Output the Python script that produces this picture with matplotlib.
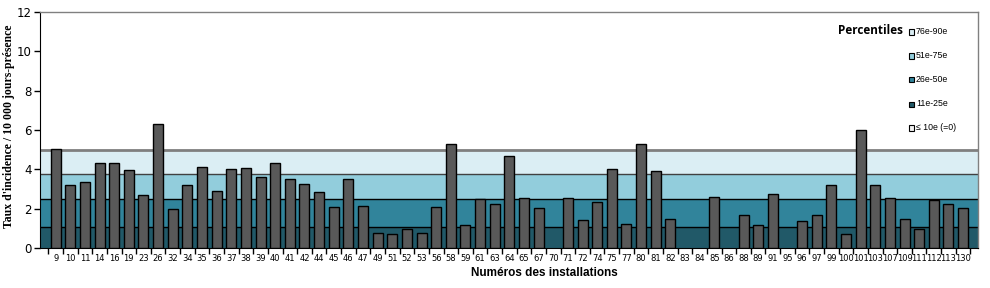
import matplotlib
matplotlib.use("Agg")
import matplotlib.pyplot as plt
from matplotlib.patches import Rectangle
import numpy as np

categories = ["9", "10", "11", "14", "16", "19", "23", "26", "32", "34", "35", "36", "37", "38",
              "39", "40", "41", "42", "44", "45", "46", "47", "49", "51", "52", "53", "56", "58",
              "59", "61", "63", "64", "65", "67", "70", "71", "72", "74", "75", "77", "80", "81",
              "82", "83", "84", "85", "86", "88", "89", "91", "95", "96", "97", "99", "100", "101",
              "103", "107", "109", "111", "112", "113", "130"]
values = [5.03, 3.20, 3.36, 4.32, 4.32, 3.97, 2.69, 6.30, 1.98, 3.20, 4.12, 2.90, 4.02, 4.07,
          3.61, 4.32, 3.51, 3.25, 2.85, 2.08, 3.51, 2.14, 0.76, 0.71, 0.97, 0.76, 2.08, 5.29,
          1.17, 2.49, 2.24, 4.68, 2.54, 2.03, 0.0, 2.54, 1.42, 2.34, 4.02, 1.22, 5.29, 3.91,
          1.47, 0.0, 0.0, 2.59, 0.0, 1.68, 1.17, 2.75, 0.0, 1.37, 1.68, 3.20, 0.71, 6.00,
          3.20, 2.54, 1.47, 0.97, 2.44, 2.24, 2.03]

# percentile band limits (upper bounds)
band_limits = [1.05, 2.5, 3.75, 5.0]
band_labels = ["≤ 10e (=0)", "11e-25e", "26e-50e", "51e-75e", "76e-90e"]
band_colors = ["#215968", "#31849B", "#92CDDC", "#DBEEF4"]

W, H = 990, 288
fig = plt.figure(figsize=(W / 100, H / 100), dpi=100)
ax = fig.add_axes([40 / W, 1 - 248 / H, 938 / W, 236 / H])

n = len(categories)
x = np.arange(n)
ax.set_xlim(-1.07, n - 0.5 + 0.52)
ax.set_ylim(0, 12)

lows = [0] + band_limits[:-1]
for lo, hi, c in zip(lows, band_limits, band_colors):
    ax.axhspan(lo, hi, color=c, zorder=0, lw=0)
ax.axhline(band_limits[0], color="black", lw=1, zorder=1)
ax.axhline(band_limits[1], color="black", lw=1, zorder=1)
ax.axhline(band_limits[2], color="#404040", lw=1, zorder=1)
ax.axhline(band_limits[3], color="#7f7f7f", lw=2, zorder=1)

vals = np.array(values)
mask = vals > 0
ax.bar(x[mask], vals[mask], width=0.68, color="#595959", edgecolor="black", lw=1, zorder=3)

ax.set_yticks(np.arange(0, 13, 2))
ax.tick_params(axis="y", labelsize=8.5, direction="out", length=4, width=1, pad=2)
ax.set_xticks(x)
ax.set_xticklabels(categories, fontsize=6.0)
ax.set_xticks(np.arange(-0.5, n, 1), minor=True)
ax.tick_params(axis="x", which="major", length=0, pad=4)
ax.tick_params(axis="x", which="minor", length=4, width=1, direction="out")

for s in ["top", "right"]:
    ax.spines[s].set_color("#808080")
    ax.spines[s].set_linewidth(1)
ax.spines["left"].set_color("black")
ax.spines["bottom"].set_color("black")

fig.text(544 / W, 1 - 273 / H, "Numéros des installations", fontsize=8.5, fontweight="bold",
         family="Liberation Sans", ha="center", va="center")
fig.text(9 / W, 1 - 126 / H, "Taux d'incidence / 10 000 jours-présence", fontsize=8.5,
         fontweight="bold", family="Liberation Serif", rotation=90, ha="center", va="center")

# legend (manual)
fig.text(903 / W, 1 - 31 / H, "Percentiles", fontsize=8.5, fontweight="bold",
         ha="right", va="center", family="Open Sans")
leg_colors = ["#DBEEF4", "#92CDDC", "#31849B", "#215968", "#F2F2F2"]
leg_texts = band_labels[::-1]
ys = [32, 56, 80, 104, 128]
for yy, c, t in zip(ys, leg_colors, leg_texts):
    fig.patches.append(Rectangle((909 / W, 1 - (yy + 2.5) / H), 5 / W, 5 / H,
                                 transform=fig.transFigure, facecolor=c,
                                 edgecolor="black", lw=0.8))
    fig.text(916 / W, 1 - yy / H, t, fontsize=6.3, ha="left", va="center",
             family="Liberation Sans")

fig.savefig("out.png", dpi=100)
